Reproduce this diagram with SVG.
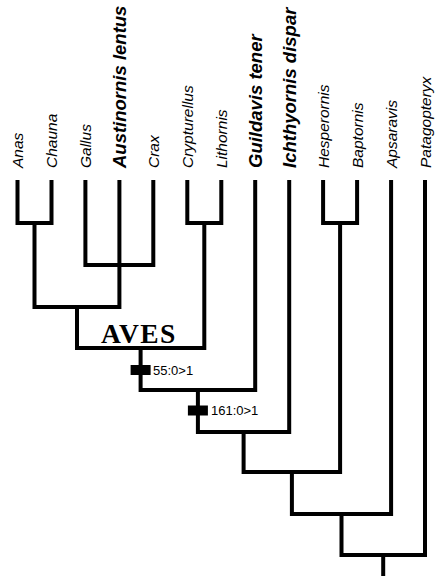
<svg xmlns="http://www.w3.org/2000/svg" width="435" height="576" viewBox="0 0 435 576">
<style>
.tx{font-family:"Liberation Sans",Arial,sans-serif;font-style:italic;font-size:15.5px;fill:#000}
.bd{font-weight:bold;font-size:18.5px}
.br{fill:none;stroke:#000;stroke-width:4;stroke-linejoin:miter;stroke-linecap:butt}
.ch{font-family:"Liberation Sans",Arial,sans-serif;font-size:13px;fill:#000}
.mk{fill:#000}
</style>
<rect width="435" height="576" fill="#fff"/>
<g id="taxa">
<g id="t-anas"><text class="tx" x="23" y="168" transform="rotate(-90 23 168)">Anas</text></g>
<g id="t-chauna"><text class="tx" x="57" y="168" transform="rotate(-90 57 168)">Chauna</text></g>
<g id="t-gallus"><text class="tx" x="91" y="168" transform="rotate(-90 91 168)">Gallus</text></g>
<g id="t-austinornis"><text class="tx bd" x="126" y="168" transform="rotate(-90 126 168)">Austinornis lentus</text></g>
<g id="t-crax"><text class="tx" x="159" y="168" transform="rotate(-90 159 168)">Crax</text></g>
<g id="t-crypturellus"><text class="tx" x="193" y="168" transform="rotate(-90 193 168)">Crypturellus</text></g>
<g id="t-lithornis"><text class="tx" x="227" y="168" transform="rotate(-90 227 168)">Lithornis</text></g>
<g id="t-guildavis"><text class="tx bd" x="262" y="168" transform="rotate(-90 262 168)">Guildavis tener</text></g>
<g id="t-ichthyornis"><text class="tx bd" x="296" y="168" transform="rotate(-90 296 168)">Ichthyornis dispar</text></g>
<g id="t-hesperornis"><text class="tx" x="329" y="168" transform="rotate(-90 329 168)">Hesperornis</text></g>
<g id="t-baptornis"><text class="tx" x="363" y="168" transform="rotate(-90 363 168)">Baptornis</text></g>
<g id="t-apsaravis"><text class="tx" x="397" y="168" transform="rotate(-90 397 168)">Apsaravis</text></g>
<g id="t-patagopteryx"><text class="tx" x="431" y="168" transform="rotate(-90 431 168)">Patagopteryx</text></g>
</g>
<g id="connectors" class="br">
<path d="M17.5 180V223H51.5V180"/>
<path d="M85.4 180V265H153.3V180"/>
<path d="M34.5 223V307H119.4V180"/>
<path d="M187.3 180V223H221.3V180"/>
<path d="M77 307V348H204.3V223"/>
<path d="M140.6 348V390H255.2V180"/>
<path d="M197.9 390V432H289.2V180"/>
<path d="M323.1 180V223H357.1V180"/>
<path d="M243.6 432V472H340.1V223"/>
<path d="M291.9 472V514H391.1V180"/>
<path d="M341.5 514V555H425V180"/>
<path d="M383.2 555V576"/>
</g>
<g id="aves"><text x="139" y="343" text-anchor="middle" font-family="Liberation Serif,'Times New Roman',serif" font-weight="bold" font-size="27.5" letter-spacing="1.5">AVES</text></g>
<g id="char-55">
<rect class="mk" x="130.6" y="365" width="20" height="10"/>
<text class="ch" x="153" y="374.5">55:0&gt;1</text>
</g>
<g id="char-161">
<rect class="mk" x="187.9" y="405.5" width="20" height="10"/>
<text class="ch" x="211" y="415">161:0&gt;1</text>
</g>
</svg>
